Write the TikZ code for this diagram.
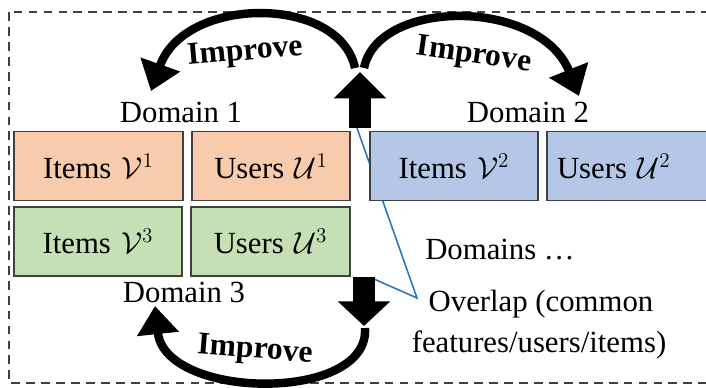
\documentclass[tikz,border=0pt]{standalone}
\usepackage{fontspec}
\setmainfont{Liberation Serif}
\usetikzlibrary{arrows.meta}
\definecolor{domainorange}{HTML}{F8CBAD}
\definecolor{domainblue}{HTML}{B4C7E7}
\definecolor{domaingreen}{HTML}{C5E0B4}
\definecolor{overlapblue}{HTML}{2E75B6}

\begin{document}
\begin{tikzpicture}[x=0.02cm,y=-0.02cm,
  txt/.style={font=\fontsize{17.5}{20}\selectfont,inner sep=0pt},
  improvetxt/.style={font=\fontsize{18}{20}\selectfont\bfseries,inner sep=0pt},
  itembox/.style={draw=black!75,line width=0.7pt,minimum height=1.38cm,inner sep=0pt,
    font=\fontsize{17.5}{20}\selectfont},
  improvearc/.style={line width=4.8pt,-{Triangle[width=23pt,length=16pt]}},
  blockarrow/.style={line width=12.5pt}]
  \useasboundingbox (0,0) rectangle (706,387);
  % frame
  \draw[black!75,line width=1.1pt,dash pattern=on 5pt off 3.5pt] (9,12) rectangle (720,383);
  % overlap pointer (behind the boxes)
  \coordinate (upbase) at (360,128);
  \coordinate (uptip) at (360,72);
  \coordinate (downbase) at (364,277);
  \coordinate (downtip) at (364,326);
  \coordinate (overlap) at (417,298);
  \draw[overlapblue,line width=0.9pt] (357,128) -- (overlap) -- (374,279);
  % boxes
  \node[itembox,fill=domainorange,minimum width=3.38cm] (v1) at (98.5,166) {Items\,\,$\mathcal{V}^1$};
  \node[itembox,fill=domainorange,minimum width=3.16cm] (u1) at (271,166) {Users\,\,$\mathcal{U}^1$};
  \node[itembox,fill=domainblue,minimum width=3.36cm] (v2) at (454,166) {Items\,\,$\mathcal{V}^2$};
  \node[itembox,fill=domainblue,minimum width=3.30cm,text width=3.0cm,align=left] (u2) at (629.5,166) {\hspace*{0.05cm}Users\,\,$\mathcal{U}^2$};
  \node[itembox,fill=domaingreen,minimum width=3.36cm] (v3) at (98,241.5) {Items\,\,$\mathcal{V}^3$};
  \node[itembox,fill=domaingreen,minimum width=3.18cm] (u3) at (270.5,241.5) {Users\,\,$\mathcal{U}^3$};
  % labels
  \node[txt] (d1) at (181,112) {Domain 1};
  \node[txt] (d2) at (528,112) {Domain 2};
  \node[txt] (d3) at (184,292) {Domain 3};
  \node[txt] (dmore) at (500,250) {Domains \dots};
  \node[txt] (ov1) at (541,304) {Overlap (common};
  \node[txt] (ov2) at (539,345) {features/users/items)};
  % block arrows
  \draw[blockarrow,-{Triangle[width=29pt,length=15pt]}] (upbase) -- (uptip);
  \draw[blockarrow,-{Triangle[width=29pt,length=14pt]}] (downbase) -- (downtip);
  % improve arcs
  \draw[improvearc] (355,68) .. controls (340,-5) and (185,-5) .. (151,91);
  \draw[improvearc] (364,68) .. controls (378,-2) and (540,-2) .. (579,96);
  \draw[improvearc] (365,328) .. controls (370,403) and (165,400) .. (155,306);
  \node[improvetxt,rotate=5] (imp1) at (245,53) {Improve};
  \node[improvetxt,rotate=-8] (imp2) at (474,56) {Improve};
  \node[improvetxt,rotate=-4.5] (imp3) at (255,351) {Improve};
\end{tikzpicture}
\end{document}
